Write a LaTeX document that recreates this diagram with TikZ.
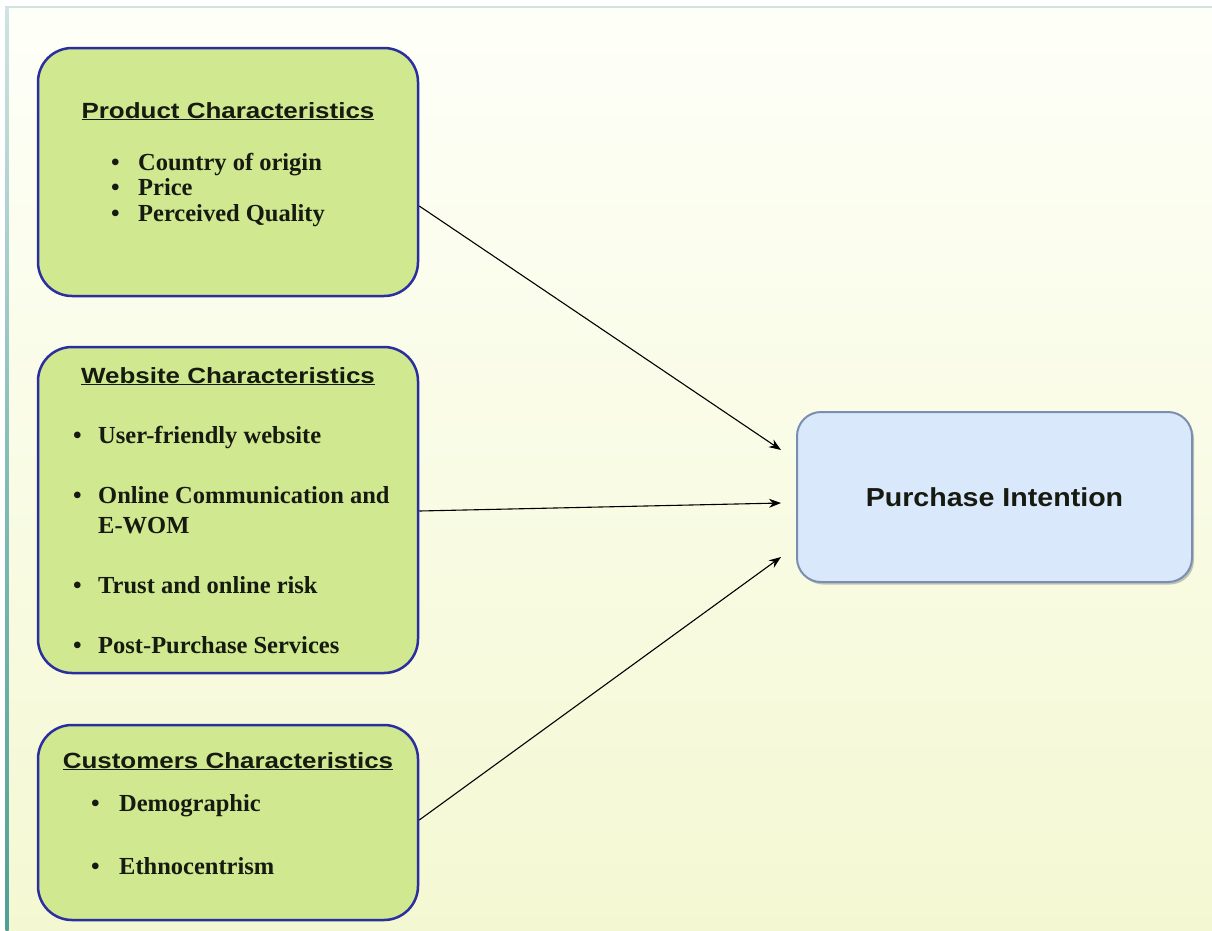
\documentclass[tikz,border=0pt]{standalone}
\usepackage{fontspec}
\setmainfont{Liberation Serif}
\newfontfamily\titlefont[FakeStretch=1.18]{Liberation Sans}
\newfontfamily\pifont[FakeStretch=1.1]{Liberation Sans}
\usetikzlibrary{calc,shadows,arrows.meta}
\definecolor{bgtop}{HTML}{FEFFF8}
\definecolor{bgbot}{HTML}{F4F8D2}
\definecolor{boxgreen}{HTML}{D0E88F}
\definecolor{boxblue}{HTML}{2B2E9E}
\definecolor{pifill}{HTML}{DAE8FC}
\definecolor{pidraw}{HTML}{7A8FB0}
\definecolor{edgetop}{HTML}{CFE3E3}
\definecolor{edgeteal}{HTML}{4F9F98}
\definecolor{txtcol}{HTML}{161A10}
\newcommand\mybul[1]{\makebox[#1][l]{\textbullet}}
\tikzset{
  greenbox/.style={draw=boxblue, line width=2.5pt, fill=boxgreen, rounded corners=34pt, minimum width=380pt, inner sep=0pt},
  pibox/.style={draw=pidraw, line width=2pt, fill=pifill, rounded corners=24pt, minimum width=395pt, minimum height=170pt,
    drop shadow={shadow xshift=2pt, shadow yshift=-2.5pt, fill=black!45}, font=\pifont\bfseries\fontsize{26}{30}\selectfont, text=txtcol},
  ttl/.style={font=\titlefont\bfseries\fontsize{22}{26}\selectfont, text=txtcol, inner sep=0pt, anchor=base},
  item/.style={font=\bfseries\fontsize{24.5}{26}\selectfont, text=txtcol, inner sep=0pt, anchor=base west},
  conn/.style={-{Stealth[length=12pt,width=9pt]}, line width=1.1pt, black}
}
\begin{document}
\begin{tikzpicture}[x=1pt,y=-1pt]
\useasboundingbox (0,0) rectangle (1212,930);
\fill[white] (0,0) rectangle (1212,930);
\shade[top color=bgtop, bottom color=bgbot] (5,7) rectangle (1212,930);
\draw[edgetop, line width=2pt] (5,7) -- (1212,7);
\shade[top color=edgetop, bottom color=edgeteal, middle color=edgeteal!70] (5.5,8) rectangle (8.5,930);

% boxes
\node[greenbox, minimum height=248pt] (p1) at (228,172) {};
\node[greenbox, minimum height=326pt] (p2) at (228,510) {};
\node[greenbox, minimum height=195pt] (p3) at (228,822.5) {};
\node[pibox] (pi) at (994.5,497) {Purchase Intention};

% product
\node[ttl] (t1) at (228,118) {\underline{Product Characteristics}};
\node[item] (a1) at (111,170) {\mybul{27pt}Country of origin};
\node[item] (a2) at (111,195.5) {\mybul{27pt}Price};
\node[item] (a3) at (111,221) {\mybul{27pt}Perceived Quality};

% website
\node[ttl] (t2) at (228,383) {\underline{Website Characteristics}};
\node[item] (b1) at (73,443) {\mybul{25pt}User-friendly website};
\node[item] (b2) at (73,503) {\mybul{25pt}Online Communication and};
\node[item] (b2b) at (98,533) {E-WOM};
\node[item] (b3) at (73,593) {\mybul{25pt}Trust and online risk};
\node[item] (b4) at (73,653) {\mybul{25pt}Post-Purchase Services};

% customers
\node[ttl] (t3) at (228,768) {\underline{Customers Characteristics}};
\node[item] (c1) at (91,811) {\mybul{28pt}Demographic};
\node[item] (c2) at (91,874) {\mybul{28pt}Ethnocentrism};

% arrow targets
\coordinate (e1) at ($(pi.west)+(-15,-47)$);
\coordinate (e2) at ($(pi.west)+(-15,6)$);
\coordinate (e3) at ($(pi.west)+(-15,60)$);

\draw[conn] ($(p1.east)+(0,34)$) -- (e1);
\draw[conn] ($(p2.east)+(0,1)$) -- (e2);
\draw[conn] ($(p3.east)+(0,-2.5)$) -- (e3);
\end{tikzpicture}
\end{document}
